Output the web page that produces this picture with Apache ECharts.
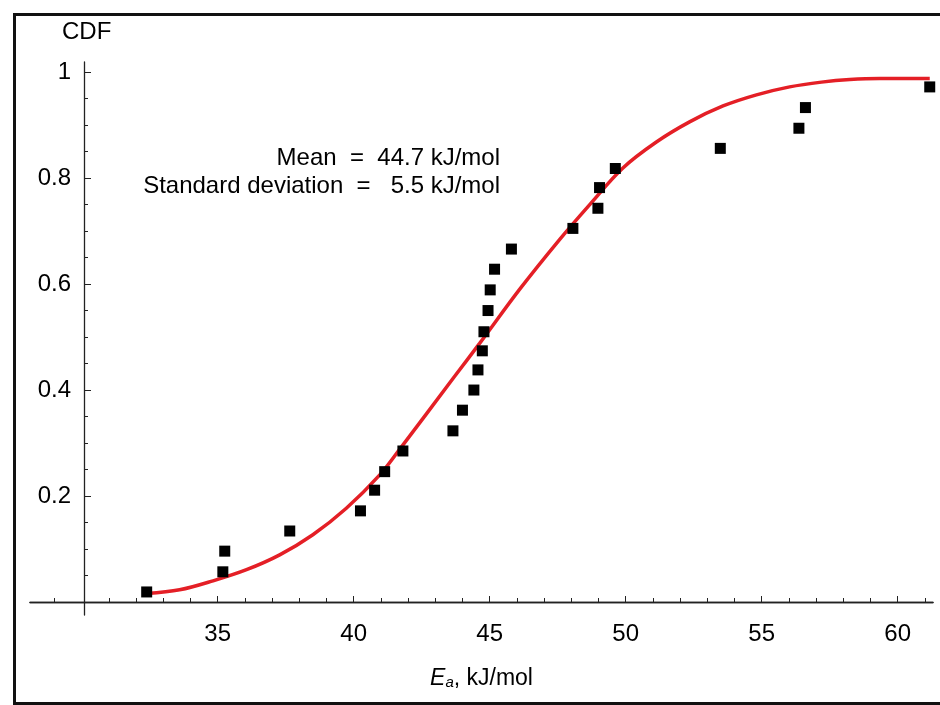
<!DOCTYPE html>
<html>
<head>
<meta charset="utf-8">
<script src="https://cdn.jsdelivr.net/npm/echarts@6/dist/echarts.min.js"></script>
<style>
html,body{margin:0;padding:0;background:#fff;}
#c{width:940px;height:705px;}
</style>
</head>
<body>
<div id="c"></div>
<script>
// Experimental points (Ea, CDF)
const pointEa = [32.39, 35.19, 35.26, 37.65, 40.25, 40.77, 41.14, 41.81, 43.65, 44.00, 44.42, 44.57, 44.73, 44.79, 44.94, 45.02, 45.18, 45.80, 48.06, 48.98, 49.04, 49.62, 53.48, 56.37, 56.61, 61.18];
const pointCdf = [0.019, 0.057, 0.096, 0.134, 0.172, 0.211, 0.246, 0.285, 0.323, 0.362, 0.400, 0.438, 0.474, 0.510, 0.550, 0.589, 0.628, 0.666, 0.705, 0.743, 0.782, 0.818, 0.856, 0.894, 0.933, 0.972];
// Fitted curve
const curveEa = [32.38, 33.60, 34.83, 36.06, 37.28, 38.50, 39.73, 40.96, 41.69, 43.70, 44.63, 46.10, 47.57, 48.68, 49.90, 51.13, 52.35, 53.58, 54.81, 56.03, 57.20, 58.24, 59.34, 61.18];
const curveCdf = [0.016, 0.023, 0.040, 0.061, 0.089, 0.127, 0.177, 0.240, 0.288, 0.425, 0.488, 0.590, 0.684, 0.750, 0.819, 0.868, 0.906, 0.936, 0.957, 0.972, 0.981, 0.986, 0.988, 0.988];
// Tick values
const xMajorTicks = [35, 40, 45, 50, 55, 60];
const xMinorTicks = [29, 31, 32, 33, 34, 36, 37, 38, 39, 41, 42, 43, 44, 46, 47, 48, 49, 51, 52, 53, 54, 56, 57, 58, 59, 61];
const yMajorTicks = [0.2, 0.4, 0.6, 0.8, 1];
const yMinorTicks = [0.05, 0.1, 0.15, 0.25, 0.3, 0.35, 0.45, 0.5, 0.55, 0.65, 0.7, 0.75, 0.85, 0.9, 0.95];
const annotationLines = ['Mean  =  44.7 kJ/mol', 'Standard deviation  =   5.5 kJ/mol'];

const FONT = '"Liberation Sans", Arial, sans-serif';
const chart = echarts.init(document.getElementById('c'), null, {renderer: 'canvas'});

const xMin = 28.1, xMax = 61.3, yMin = -0.0245, yMax = 1.019;
const axisLine = {show: true, onZero: true, lineStyle: {color: '#222', width: 1.3}};

const option = {
  backgroundColor: '#fff',
  animation: false,
  grid: {left: 30, right: 7, top: 62, bottom: 90, containLabel: false},
  xAxis: [
    {
      type: 'value', min: xMin, max: xMax, position: 'bottom',
      axisLine: axisLine,
      splitLine: {show: false},
      axisTick: {show: true, inside: true, length: 6, customValues: xMajorTicks, lineStyle: {color: '#222'}},
      axisLabel: {show: true, customValues: xMajorTicks, margin: 7, fontFamily: FONT, fontSize: 24, color: '#000'},
      name: '{e|E}{s|a}{n|, kJ/mol}',
      nameLocation: 'middle', nameGap: 52,
      nameTextStyle: {
        rich: {
          e: {fontFamily: FONT, fontSize: 23, fontStyle: 'italic', color: '#000'},
          s: {fontFamily: FONT, fontSize: 15, fontStyle: 'italic', color: '#000', verticalAlign: 'bottom', padding: [8, 0, 0, 0]},
          n: {fontFamily: FONT, fontSize: 23, color: '#000'}
        }
      }
    },
    {
      type: 'value', min: xMin, max: xMax, position: 'bottom',
      axisLine: axisLine,
      splitLine: {show: false},
      axisTick: {show: true, inside: true, length: 4, customValues: xMinorTicks, lineStyle: {color: '#222'}},
      axisLabel: {show: false}
    }
  ],
  yAxis: [
    {
      type: 'value', min: yMin, max: yMax, position: 'left', offset: -54,
      axisLine: {show: true, onZero: false, lineStyle: {color: '#222', width: 1.3}},
      splitLine: {show: false},
      axisTick: {show: true, inside: true, length: 7, customValues: yMajorTicks, lineStyle: {color: '#222'}},
      axisLabel: {show: true, customValues: yMajorTicks, margin: 13, fontFamily: FONT, fontSize: 24, color: '#000'}
    },
    {
      type: 'value', min: yMin, max: yMax, position: 'left', offset: -54,
      axisLine: {show: false, onZero: false},
      splitLine: {show: false},
      axisTick: {show: true, inside: true, length: 4, customValues: yMinorTicks, lineStyle: {color: '#222'}},
      axisLabel: {show: false}
    }
  ],
  title: {
    text: 'CDF', left: 57, top: 15,
    textStyle: {fontFamily: FONT, fontSize: 24, fontWeight: 'normal', color: '#000'}
  },
  graphic: [
    {
      type: 'rect', left: 12, top: 12, silent: true,
      shape: {width: 940, height: 689},
      style: {fill: 'none', stroke: '#111', lineWidth: 3}
    },
    {
      type: 'text', x: 500, y: 158, silent: true,
      style: {text: annotationLines[0], fontFamily: FONT, fontSize: 24, fill: '#000', align: 'right', verticalAlign: 'middle'}
    },
    {
      type: 'text', x: 500, y: 186, silent: true,
      style: {text: annotationLines[1], fontFamily: FONT, fontSize: 24, fill: '#000', align: 'right', verticalAlign: 'middle'}
    }
  ],
  series: [
    {
      type: 'line', xAxisIndex: 0, yAxisIndex: 0,
      data: curveEa.map((x, i) => [x, curveCdf[i]]),
      showSymbol: false, smooth: 0.35,
      lineStyle: {color: '#e41f26', width: 3.5},
      z: 2
    },
    {
      type: 'scatter', xAxisIndex: 0, yAxisIndex: 0,
      data: pointEa.map((x, i) => [x, pointCdf[i]]),
      symbol: 'rect', symbolSize: 11,
      itemStyle: {color: '#000', opacity: 1},
      z: 3
    }
  ]
};
chart.setOption(option);
</script>
</body>
</html>
